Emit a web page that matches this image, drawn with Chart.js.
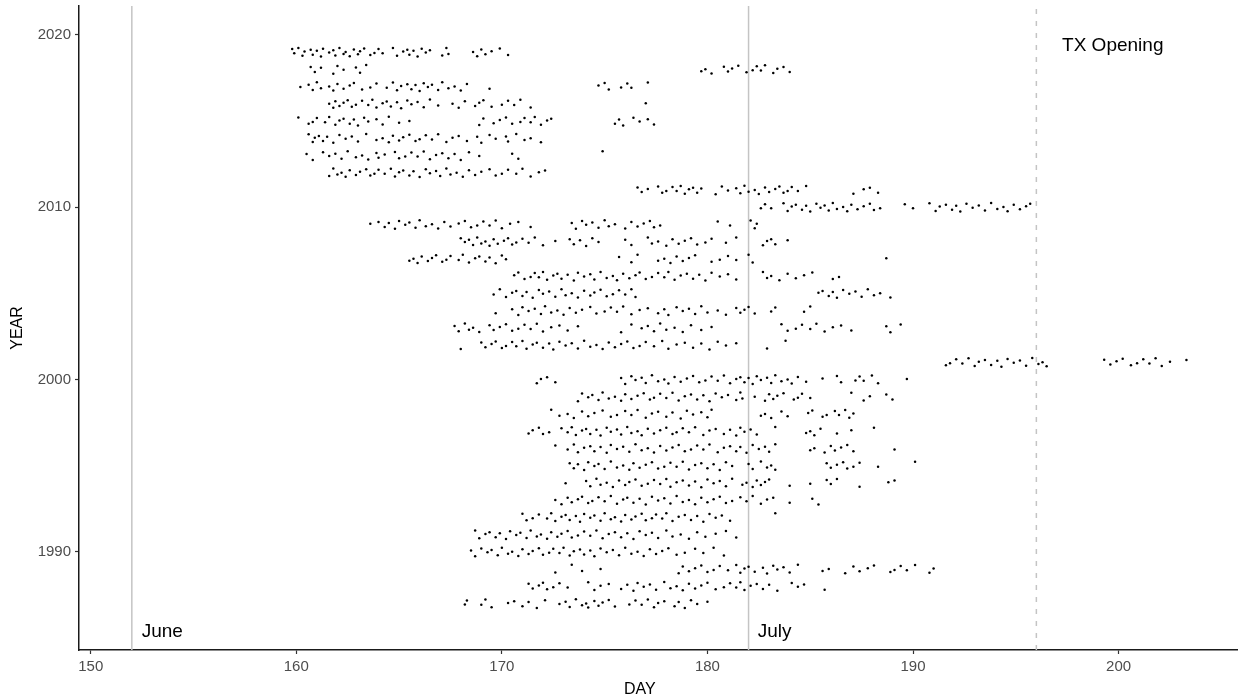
<!DOCTYPE html>
<html>
<head>
<meta charset="utf-8">
<script src="https://cdn.jsdelivr.net/npm/chart.js@4/dist/chart.umd.min.js"></script>
<style>
  body { margin: 0; background: #fff; }
  canvas { display: block; }
</style>
</head>
<body>
<canvas id="chart" width="1241" height="700"></canvas>
<script>
// ** Data (day of year for each observation, one array per year)

let d2019 = [159.8,159.9,160.1,160.3,160.4,160.7,160.8,161.0,161.2,161.3,161.6,161.8,161.9,162.1,162.3,162.4,162.6,162.8,163.0,163.1,163.3,163.6,163.8,164.0,164.2,164.7,164.9,165.2,165.4,165.5,165.7,165.9,166.1,166.3,166.5,167.1,167.3,167.4,168.6,168.8,169.0,169.2,169.5,169.9,170.3];
let d2018 = [160.7,160.9,161.2,161.8,162.0,162.3,162.9,163.1,163.4,179.7,179.9,180.2,180.8,181.0,181.2,181.5,181.9,182.2,182.4,182.6,182.8,183.2,183.4,183.7,184.0];
let d2017 = [160.2,160.6,160.8,161.0,161.2,161.6,161.8,162.0,162.3,162.6,162.8,163.2,163.6,163.9,164.4,164.7,164.9,165.1,165.4,165.6,165.8,166.0,166.2,166.4,166.6,166.9,167.1,167.4,167.7,168.0,168.3,169.4,174.7,175.0,175.2,175.8,176.1,176.3,177.1];
let d2016 = [161.6,161.8,161.9,162.1,162.3,162.5,162.7,162.9,163.2,163.5,163.7,163.9,164.2,164.4,164.6,164.9,165.1,165.4,165.6,165.9,166.2,166.5,166.9,167.6,167.9,168.2,168.7,168.9,169.1,169.5,170.0,170.3,170.6,170.9,171.4,177.0];
let d2015 = [160.1,160.6,160.8,161.0,161.4,161.6,161.9,162.1,162.3,162.6,162.8,163.0,163.3,163.5,163.9,164.2,164.5,165.0,165.5,168.9,169.1,169.6,169.9,170.2,170.5,170.9,171.1,171.4,171.6,171.9,172.2,172.4,175.5,175.7,175.9,176.4,176.7,177.1,177.4];
let d2014 = [160.6,160.8,160.9,161.1,161.3,161.5,161.8,162.1,162.4,162.7,163.0,163.4,163.9,164.2,164.5,164.7,165.0,165.2,165.5,165.8,166.0,166.3,166.6,166.9,167.3,167.6,167.9,168.3,168.8,169.0,169.4,169.7,170.2,170.3,170.7,171.1,171.4,171.9];
let d2013 = [160.5,160.8,161.3,161.6,161.9,162.2,162.5,162.9,163.2,163.5,163.9,164.0,164.3,164.8,165.0,165.3,165.6,165.9,166.2,166.5,166.8,167.1,167.4,167.7,168.0,168.4,168.9,170.5,170.8,174.9];
let d2012 = [161.6,161.8,162.0,162.2,162.4,162.6,162.9,163.1,163.4,163.6,163.8,164.0,164.3,164.6,164.8,165.0,165.2,165.5,165.7,166.0,166.3,166.5,166.8,167.0,167.3,167.5,167.8,168.1,168.4,168.7,169.0,169.4,169.7,170.0,170.3,170.7,171.0,171.4,171.8,172.1];
let d2011 = [176.6,176.8,177.1,177.6,177.8,178.0,178.3,178.5,178.7,178.9,179.1,179.3,179.5,179.7,180.4,180.7,181.0,181.4,181.6,181.8,182.0,182.3,182.5,182.8,183.0,183.3,183.5,183.7,183.9,184.1,184.4,184.8,187.1,187.6,187.9,188.3];
let d2010 = [182.6,182.8,183.1,183.7,183.9,184.1,184.3,184.6,184.8,185.0,185.3,185.5,185.7,185.9,186.1,186.3,186.6,186.8,187.0,187.3,187.6,187.9,188.1,188.4,189.6,190.0,190.8,191.1,191.3,191.6,191.9,192.1,192.3,192.6,192.9,193.2,193.5,193.8,194.1,194.4,194.6,194.9,195.2,195.5,195.7];
let d2009 = [163.6,164.0,164.3,164.5,164.8,165.0,165.3,165.5,165.8,166.0,166.3,166.6,166.9,167.2,167.5,167.9,168.2,168.5,168.8,169.1,169.4,169.7,170.0,170.4,170.8,171.4,173.4,173.6,173.9,174.1,174.4,174.7,175.0,175.2,175.5,176.0,176.3,176.6,176.9,177.2,177.4,177.7,180.5,181.1,182.1,182.3,182.4];
let d2008 = [168.0,168.2,168.4,168.6,168.8,169.0,169.2,169.4,169.6,169.8,170.1,170.3,170.5,170.7,171.0,171.3,171.6,172.0,172.6,173.3,173.5,173.8,174.1,174.4,174.7,176.0,176.3,177.1,177.3,177.6,178.0,178.3,178.6,178.9,179.2,179.5,179.9,180.2,180.9,181.4,182.7,182.9,183.1,183.3,183.9];
let d2007 = [165.5,165.7,165.9,166.1,166.4,166.6,166.8,167.1,167.3,167.5,167.9,168.1,168.4,168.7,168.9,169.2,169.4,169.7,170.0,170.2,175.7,176.3,176.6,177.6,177.9,178.2,178.5,178.8,179.1,179.4,180.2,180.6,181.0,181.4,182.0,182.2,188.7];
let d2006 = [170.6,170.8,171.1,171.4,171.6,171.8,172.0,172.2,172.5,172.7,172.9,173.2,173.5,173.7,174.0,174.3,174.5,174.8,175.1,175.4,175.6,175.9,176.2,176.5,176.7,177.0,177.3,177.6,177.9,178.1,178.4,178.7,179.0,179.3,179.6,179.9,180.2,180.6,181.0,181.4,182.7,182.9,183.1,183.5,183.9,184.3,184.7,185.1,186.1,186.4];
let d2005 = [169.6,169.9,170.2,170.5,170.7,171.0,171.2,171.5,171.8,172.0,172.3,172.6,172.9,173.1,173.4,173.7,174.0,174.3,174.5,174.8,175.1,175.4,175.7,176.0,176.3,176.5,185.4,185.6,185.9,186.1,186.3,186.6,186.9,187.2,187.5,187.8,188.1,188.4,188.9];
let d2004 = [169.7,170.5,170.8,171.0,171.3,171.6,171.9,172.1,172.4,172.7,173.0,173.3,173.6,173.9,174.3,174.6,175.0,175.3,175.6,175.9,176.3,176.7,177.1,177.6,177.9,178.1,178.5,178.8,179.1,179.4,179.7,180.0,180.5,180.9,181.4,181.6,181.8,182.0,182.3,183.1,183.3,184.7,185.0];
let d2003 = [167.7,167.9,168.2,168.4,168.6,168.9,169.4,169.6,169.9,170.2,170.5,170.8,171.1,171.4,171.7,172.0,172.4,172.8,173.2,173.7,175.8,176.3,176.8,177.1,177.4,177.7,178.0,178.4,178.8,179.2,179.7,180.2,183.6,183.9,184.3,184.6,185.0,185.3,185.7,186.1,186.5,187.0,188.7,188.9,189.4];
let d2002 = [168.0,169.0,169.2,169.5,169.7,170.0,170.2,170.5,170.7,171.0,171.2,171.5,171.7,172.0,172.3,172.5,172.8,173.1,173.4,173.7,174.0,174.3,174.6,174.9,175.2,175.5,175.8,176.1,176.4,176.7,177.0,177.4,177.8,178.1,178.5,178.9,179.3,179.7,180.1,180.5,180.9,181.4,182.9,183.8];
let d2001 = [191.6,191.8,192.1,192.4,192.7,193.0,193.2,193.5,193.8,194.1,194.3,194.6,194.9,195.2,195.5,195.8,196.1,196.3,196.5,199.3,199.6,199.9,200.2,200.6,200.9,201.2,201.5,201.8,202.1,202.5,203.3];
let d2000 = [171.7,171.9,172.2,172.6,175.8,176.0,176.3,176.5,176.8,177.0,177.3,177.6,177.9,178.1,178.4,178.7,179.0,179.3,179.6,179.9,180.2,180.5,180.8,181.1,181.4,181.6,181.8,182.0,182.2,182.4,182.6,182.9,183.1,183.3,183.6,183.9,184.1,184.4,184.8,185.6,186.3,186.5,187.2,187.4,187.6,188.0,188.3,189.7];
let d1999 = [173.7,173.9,174.2,174.4,174.7,174.9,175.2,175.5,175.8,176.0,176.3,176.6,176.9,177.2,177.4,177.7,178.0,178.3,178.6,178.9,179.2,179.5,179.8,180.1,180.4,180.7,181.0,181.4,181.6,181.7,182.3,182.8,183.0,183.2,183.4,183.7,184.2,184.4,184.6,185.0,187.0,187.6,187.9,188.7,189.0];
let d1998 = [172.4,172.8,173.2,173.5,173.9,174.2,174.5,174.9,175.3,175.6,176.0,176.3,176.6,177.0,177.3,177.6,178.0,178.3,178.7,179.0,179.3,179.7,180.0,180.2,182.6,182.8,183.1,183.6,183.9,184.9,185.1,185.6,185.8,186.2,186.4,186.7,186.9,187.1];
let d1997 = [171.3,171.5,171.8,172.0,172.3,172.9,173.2,173.4,173.6,173.9,174.1,174.3,174.6,174.8,175.1,175.3,175.6,175.8,176.1,176.3,176.6,176.8,177.1,177.4,177.7,178.0,178.3,178.5,178.8,179.1,179.4,179.8,180.1,180.4,180.8,181.1,181.4,181.6,181.8,182.1,182.4,183.3,184.8,185.0,185.2,185.5,186.3,187.0,188.1];
let d1996 = [172.6,173.2,173.5,173.7,174.0,174.3,174.5,174.8,175.1,175.3,175.6,175.9,176.2,176.5,176.8,177.1,177.4,177.7,178.0,178.3,178.6,178.9,179.2,179.5,179.8,180.1,180.5,180.8,181.1,181.4,181.6,181.9,182.2,182.5,182.8,183.0,183.3,185.0,185.2,185.7,186.0,186.2,186.5,186.8,187.1,189.1];
let d1995 = [173.3,173.5,173.7,174.0,174.2,174.5,174.7,175.0,175.3,175.6,175.9,176.2,176.4,176.7,177.0,177.3,177.6,177.9,178.2,178.5,178.8,179.1,179.4,179.7,180.0,180.3,180.6,180.9,181.2,182.0,182.2,182.6,182.9,183.1,183.3,185.8,186.0,186.3,186.6,186.8,187.1,187.4,188.3,190.1];
let d1994 = [173.1,174.1,174.3,174.6,174.8,175.1,175.4,175.7,176.0,176.2,176.5,176.8,177.1,177.4,177.7,178.0,178.2,178.5,178.8,179.1,179.4,179.7,180.0,180.3,180.6,180.9,181.2,181.7,181.9,182.2,182.4,182.6,182.8,183.0,184.0,185.0,185.8,186.0,186.3,187.4,188.8,189.1];
let d1993 = [172.6,172.9,173.2,173.4,173.7,173.9,174.2,174.4,174.7,175.0,175.3,175.6,175.9,176.1,176.4,176.7,177.0,177.3,177.6,177.9,178.2,178.5,178.8,179.1,179.4,179.7,180.0,180.3,180.6,180.9,181.2,181.6,181.9,182.2,182.6,182.9,183.2,184.0,185.1,185.4];
let d1992 = [171.0,171.2,171.5,171.8,172.2,172.4,172.6,172.9,173.1,173.3,173.6,173.8,174.0,174.3,174.5,174.8,175.0,175.3,175.5,175.8,176.0,176.3,176.5,176.8,177.0,177.3,177.5,177.8,178.0,178.3,178.6,178.9,179.2,179.5,179.8,180.1,180.4,180.7,181.1,183.3];
let d1991 = [168.7,168.9,169.2,169.4,169.7,169.9,170.2,170.4,170.7,170.9,171.2,171.4,171.7,171.9,172.2,172.4,172.7,172.9,173.2,173.4,173.7,174.0,174.3,174.6,174.9,175.2,175.5,175.8,176.1,176.4,176.7,177.0,177.3,177.6,178.0,178.3,178.7,179.1,179.5,179.9,180.4,180.9,181.4];
let d1990 = [168.5,168.7,169.0,169.3,169.5,169.8,170.0,170.3,170.5,170.8,171.0,171.3,171.5,171.8,172.0,172.3,172.5,172.8,173.0,173.3,173.5,173.8,174.0,174.3,174.5,174.8,175.1,175.4,175.7,176.0,176.3,176.6,176.9,177.2,177.5,177.8,178.1,178.5,178.9,179.4,179.8,180.3,180.8];
let d1989 = [172.6,173.4,173.9,174.8,178.6,178.8,179.1,179.4,179.7,180.0,180.3,180.6,181.0,181.4,181.6,181.8,182.0,182.3,182.7,182.9,183.2,183.4,183.7,184.0,184.4,185.6,185.9,186.7,187.1,187.4,187.8,188.1,188.9,189.1,189.4,189.7,190.1,190.8,191.0];
let d1988 = [171.3,171.5,171.8,172.0,172.2,172.5,172.8,173.2,174.2,174.5,174.8,175.2,175.8,176.1,176.4,176.6,176.9,177.2,177.5,177.9,178.2,178.5,178.8,179.1,179.4,179.7,180.0,180.4,180.8,181.1,181.4,181.6,181.8,182.1,182.4,182.7,183.0,183.4,184.1,184.4,184.7,185.7];
let d1987 = [168.2,168.3,169.0,169.2,169.5,170.3,170.6,171.0,171.3,171.7,172.1,172.8,173.1,173.3,173.6,173.9,174.1,174.2,174.5,174.7,174.9,175.2,175.5,176.2,176.5,176.8,177.1,177.4,177.6,177.9,178.4,178.6,178.9,179.2,179.5,180.0];

let years = [2019,2018,2017,2016,2015,2014,2013,2012,2011,2010,2009,2008,2007,2006,2005,2004,2003,2002,2001,2000,1999,1998,1997,1996,1995,1994,1993,1992,1991,1990,1989,1988,1987];
let dayRows = [d2019,d2018,d2017,d2016,d2015,d2014,d2013,d2012,d2011,d2010,d2009,d2008,d2007,d2006,d2005,d2004,d2003,d2002,d2001,d2000,d1999,d1998,d1997,d1996,d1995,d1994,d1993,d1992,d1991,d1990,d1989,d1988,d1987];

// vertical spread of the points around their year (the plot is jittered)
let jitterYears = [0.18,-0.06,0.24,-0.21,0.04,0.14,-0.15,0.09,-0.25,0.2,-0.02,0.11,-0.19,0.25,-0.1,0.01,-0.23,0.15,-0.12,0.06,0.21,-0.16,-0.05];

// reference lines and their labels
let lineDays = [152, 182, 196];
let lineLabels = ['June', 'July', 'TX Opening'];

// ticks
let xTicks = [150, 160, 170, 180, 190, 200];
let yTicks = [1990, 2000, 2010, 2020];

// axis limits
let xMin = 149.43, xMax = 205.76;
let yMin = 1984.31, yMax = 2021.68;

//** Build points **/

let points = [];
for (let r = 0; r < dayRows.length; r++){
  for (let i = 0; i < dayRows[r].length; i++){
    let j = jitterYears[(i + r * 5) % jitterYears.length];
    points.push({x: dayRows[r][i], y: years[r] + j});
  }
}

let FONT = '"Liberation Sans", Arial, Helvetica, sans-serif';

let refLines = lineDays.map((d, i) => ({
  data: [{x: d, y: yMin}, {x: d, y: yMax}],
  showLine: true,
  pointRadius: 0,
  borderColor: '#c4c4c4',
  borderWidth: 1.5,
  borderDash: i === 2 ? [5, 7] : [],
  order: 2
}));

// label positions (day / year of the text start and baseline)
let labelSpots = [
  {day: 152.48, year: 1985.07},
  {day: 182.45, year: 1985.07},
  {day: 197.25, year: 2019.07}
];

let labelPlugin = {
  id: 'lineLabels',
  afterDatasetsDraw(chart){
    let ctx = chart.ctx;
    let xs = chart.scales.x, ys = chart.scales.y;
    ctx.save();
    ctx.fillStyle = '#000';
    ctx.font = '19px ' + FONT;
    ctx.textAlign = 'left';
    ctx.textBaseline = 'alphabetic';
    for (let i = 0; i < lineLabels.length; i++){
      ctx.fillText(lineLabels[i], xs.getPixelForValue(labelSpots[i].day), ys.getPixelForValue(labelSpots[i].year));
    }
    // x axis title, centred under the plotted day range as in the original
    ctx.font = '16px ' + FONT;
    ctx.textAlign = 'center';
    ctx.textBaseline = 'middle';
    ctx.fillText('DAY', (xs.left + xs.getPixelForValue(204)) / 2, 690);
    ctx.restore();
  }
};

let axisCommon = {
  border: {display: true, color: '#1a1a1a', width: 1.5},
  grid: {display: true, drawOnChartArea: false, drawTicks: true, tickLength: 4, color: '#333', tickWidth: 1.2}
};

new Chart(document.getElementById('chart'), {
  type: 'scatter',
  data: {
    datasets: [
      {
        data: points,
        pointRadius: 1.25,
        pointBorderWidth: 0,
        pointBackgroundColor: '#000',
        order: 1
      },
      ...refLines
    ]
  },
  options: {
    responsive: false,
    animation: false,
    events: [],
    layout: {padding: {top: 6, right: 0, bottom: 0, left: 0}},
    plugins: {legend: {display: false}, tooltip: {enabled: false}},
    scales: {
      x: {
        type: 'linear',
        min: xMin,
        max: xMax,
        ...axisCommon,
        afterBuildTicks: s => { s.ticks = xTicks.map(v => ({value: v})); },
        afterFit: s => { s.height = 50; s.paddingLeft = 0; s.paddingRight = 0; },
        ticks: {color: '#4d4d4d', font: {family: FONT, size: 15}, padding: 4, maxRotation: 0, autoSkip: false, callback: v => String(v)},
        title: {display: false}
      },
      y: {
        type: 'linear',
        min: yMin,
        max: yMax,
        ...axisCommon,
        afterBuildTicks: s => { s.ticks = yTicks.map(v => ({value: v})); },
        afterFit: s => { s.width = 79; s.paddingTop = 0; s.paddingBottom = 0; },
        ticks: {color: '#4d4d4d', font: {family: FONT, size: 15}, padding: 4, autoSkip: false, callback: v => String(v)},
        title: {display: true, text: 'YEAR', color: '#000', font: {family: FONT, size: 16, lineHeight: 1.2}, padding: {top: 8, bottom: 0}}
      }
    }
  },
  plugins: [labelPlugin]
});
</script>
</body>
</html>
